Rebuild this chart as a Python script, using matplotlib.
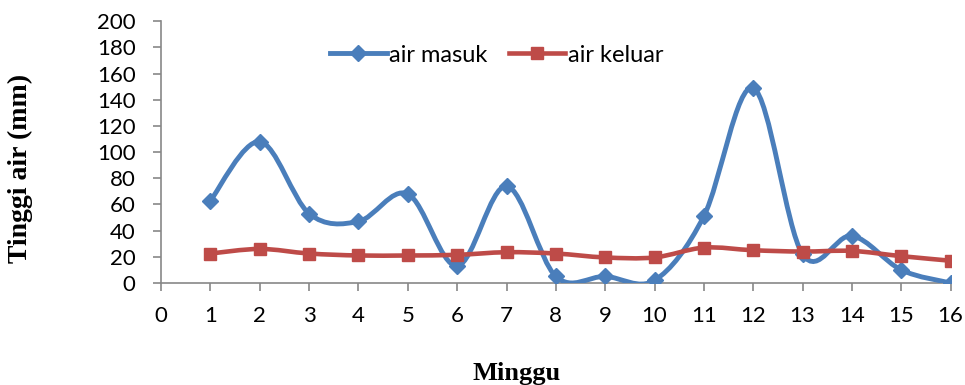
import numpy as np
import matplotlib
matplotlib.use("Agg")
import matplotlib.pyplot as plt
from matplotlib.path import Path
from matplotlib.patches import PathPatch
from matplotlib.lines import Line2D

# data
minggu = [1, 2, 3, 4, 5, 6, 7, 8, 9, 10, 11, 12, 13, 14, 15, 16]
air_masuk = [63, 108, 53, 47, 68, 13, 74, 5, 5, 2, 51, 149, 22, 36, 10, 0]
air_keluar = [22.5, 26, 22.5, 21, 21, 21.5, 23.5, 22.5, 19.5, 19.5, 27, 25, 24, 24.5, 20.5, 17]
y_ticks = list(range(0, 201, 20))
x_ticks = list(range(0, 17))

blue = "#4A7EBB"
red = "#BE4B48"


def smooth_path(xs, ys):
    # excel style smoothed line: catmull-rom as cubic bezier
    pts = np.column_stack([np.asarray(xs, float), np.asarray(ys, float)])
    n = len(pts)
    verts = [pts[0]]
    codes = [Path.MOVETO]
    for i in range(n - 1):
        p0 = pts[max(i - 1, 0)]
        p1 = pts[i]
        p2 = pts[i + 1]
        p3 = pts[min(i + 2, n - 1)]
        verts += [p1 + (p2 - p0) / 6.0, p2 - (p3 - p1) / 6.0, p2]
        codes += [Path.CURVE4] * 3
    return Path(verts, codes)


fig = plt.figure(figsize=(9.65, 3.85), dpi=100)
ax = fig.add_axes([0.167, 0.265, 0.818, 0.68])

ax.add_patch(PathPatch(smooth_path(minggu, air_masuk), facecolor="none",
                       edgecolor=blue, lw=3.5, capstyle="round", zorder=3))
ax.add_patch(PathPatch(smooth_path(minggu, air_keluar), facecolor="none",
                       edgecolor=red, lw=3.3, capstyle="round", zorder=3))
ax.plot(minggu, air_masuk, ls="none", marker="D", ms=8, color=blue, zorder=4)
ax.plot(minggu, air_keluar, ls="none", marker="s", ms=8, color=red, zorder=4)

ax.set_xlim(0, 16)
ax.set_ylim(0, 200)
ax.set_xticks(x_ticks)
ax.set_yticks(y_ticks)

for s in ["top", "right"]:
    ax.spines[s].set_visible(False)
for s in ["left", "bottom"]:
    ax.spines[s].set_color("#878787")
    ax.spines[s].set_linewidth(1.2)
ax.tick_params(axis="both", color="#878787", length=5.5, width=1.2,
               labelsize=16)
for lab in ax.get_xticklabels() + ax.get_yticklabels():
    lab.set_family("Lato")
ax.tick_params(axis="x", pad=11)
ax.tick_params(axis="y", pad=13)

ax.set_xlabel("Minggu", family="Liberation Serif", fontweight="bold",
              fontsize=19)
ax.set_ylabel("Tinggi air (mm)", family="Liberation Serif", fontweight="bold",
              fontsize=20)
ax.xaxis.set_label_coords(0.45, -0.30)
ax.yaxis.set_label_coords(-0.162, 0.437)

handles = [
    Line2D([], [], color=blue, lw=3.5, marker="D", ms=8),
    Line2D([], [], color=red, lw=3.3, marker="s", ms=8),
]
ax.legend(handles, ["air masuk", "air keluar"], loc="center",
          bbox_to_anchor=(0.425, 0.87), ncol=2, frameon=False,
          prop={"family": "Lato", "size": 17}, handlelength=2.4,
          handletextpad=0.1, columnspacing=0.9)

fig.savefig("out.png", dpi=100)
